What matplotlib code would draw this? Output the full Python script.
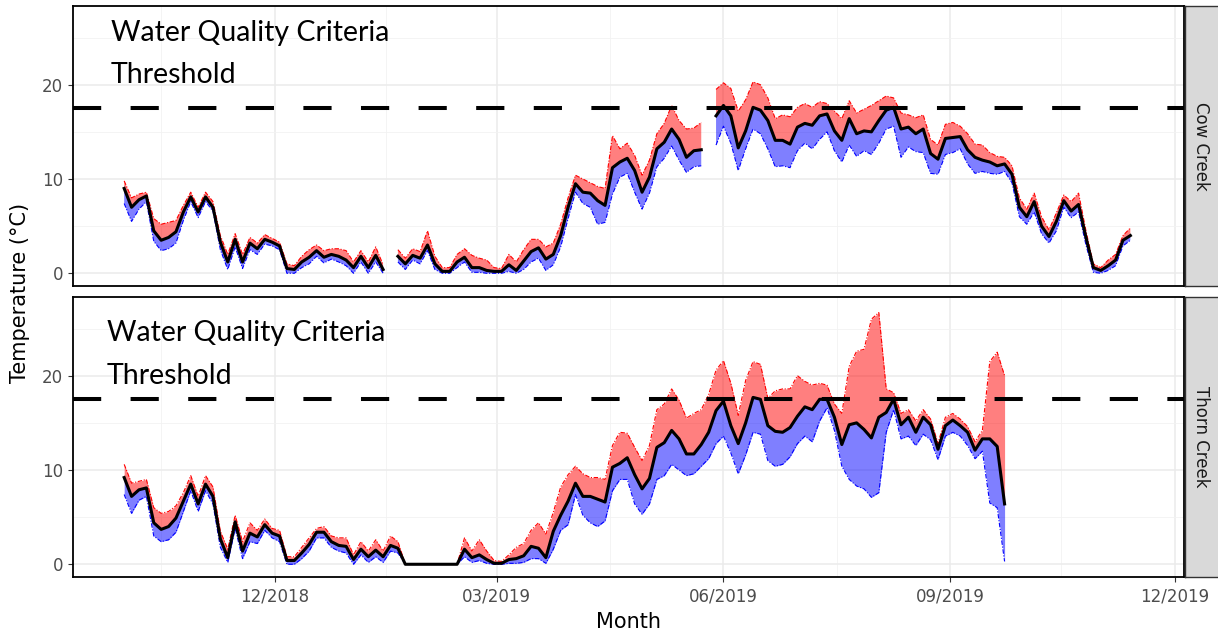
import matplotlib
matplotlib.use("Agg")
import matplotlib.pyplot as plt
import matplotlib.dates as mdates
import numpy as np
import pandas as pd

plt.rcParams["font.family"] = "DejaVu Sans"

nan = np.nan

# ── Daily water temperature, read every 3 days from 2018-10-01 ───────────────
cow_mean = [
    9.0, 7.0, 7.8, 8.2, 4.5, 3.5, 3.8, 4.4, 6.5, 8.1,
    6.5, 8.1, 7.0, 3.3, 1.2, 3.6, 1.2, 3.2, 2.6, 3.6,
    3.3, 2.9, 0.5, 0.4, 1.2, 1.7, 2.4, 1.7, 2.0, 1.8,
    1.4, 0.6, 1.8, 0.6, 1.9, 0.4, nan, 1.8, 1.0, 1.9,
    1.6, 3.0, 1.0, 0.2, 0.2, 1.2, 1.7, 0.6, 0.6, 0.3,
    0.2, 0.2, 0.9, 0.3, 1.3, 2.3, 2.7, 1.5, 2.0, 4.0,
    7.0, 9.5, 8.6, 8.5, 7.7, 7.2, 11.2, 11.8, 12.2, 10.9,
    8.6, 10.2, 13.2, 13.9, 15.3, 14.2, 12.3, 13.0, 13.1, nan,
    16.7, 17.8, 16.7, 13.3, 15.1, 17.6, 17.3, 16.2, 14.1, 14.1,
    13.7, 15.5, 15.9, 15.7, 16.7, 16.9, 15.1, 14.1, 16.4, 14.8,
    15.1, 15.0, 16.2, 17.3, 17.6, 15.3, 15.5, 14.8, 15.3, 12.7,
    12.1, 14.3, 14.4, 14.5, 13.1, 12.3, 12.0, 11.8, 11.4, 11.6,
    10.5, 7.0, 6.0, 7.6, 5.0, 3.9, 5.5, 7.7, 6.6, 7.3,
    3.8, 0.6, 0.3, 0.8, 1.4, 3.5, 4.0,
]
cow_max = [
    9.8, 8.0, 8.4, 8.6, 5.8, 5.2, 5.4, 5.6, 7.2, 8.6,
    7.0, 8.6, 7.6, 4.0, 2.0, 4.2, 2.0, 3.8, 3.2, 4.1,
    3.7, 3.3, 1.0, 0.8, 1.8, 2.5, 3.0, 2.4, 2.6, 2.6,
    2.4, 1.2, 2.4, 1.2, 2.8, 0.9, nan, 2.5, 1.6, 2.6,
    2.3, 4.5, 1.8, 0.6, 0.6, 2.0, 2.6, 1.9, 1.6, 1.4,
    0.6, 0.5, 2.0, 1.2, 2.5, 3.6, 3.6, 2.8, 3.2, 5.2,
    8.0, 10.4, 10.0, 9.6, 9.2, 9.0, 14.6, 13.2, 13.8, 12.5,
    10.4, 12.0, 14.8, 15.9, 17.8, 16.2, 15.3, 15.4, 16.0, nan,
    19.5, 20.2, 19.6, 17.2, 18.4, 20.3, 20.0, 18.6, 16.4, 16.8,
    16.6, 17.6, 18.0, 17.6, 18.2, 18.0, 17.2, 16.4, 18.3, 17.0,
    17.4, 17.8, 18.3, 18.8, 18.6, 17.0, 16.8, 16.5, 16.8, 14.2,
    13.6, 15.8, 16.0, 15.6, 14.8, 13.7, 13.6, 12.8, 12.4, 12.3,
    11.4, 8.0, 6.8, 8.5, 6.0, 4.6, 6.4, 8.3, 7.6, 8.5,
    4.5, 1.0, 0.6, 1.4, 2.0, 4.0, 4.8,
]
cow_min = [
    7.4, 5.5, 6.8, 7.6, 3.4, 2.4, 2.6, 3.2, 5.6, 7.6,
    5.9, 7.6, 6.6, 2.5, 0.4, 2.8, 0.5, 2.5, 2.0, 3.1,
    2.9, 2.5, 0.0, 0.0, 0.6, 1.0, 1.8, 1.1, 1.5, 1.2,
    0.8, 0.0, 1.2, 0.0, 1.2, 0.0, nan, 1.2, 0.4, 1.4,
    1.0, 2.4, 0.4, 0.0, 0.0, 0.6, 1.2, 0.1, 0.1, 0.0,
    0.0, 0.0, 0.2, 0.0, 0.4, 1.2, 1.6, 0.3, 0.9, 2.8,
    5.8, 8.6, 7.4, 7.0, 5.2, 5.4, 8.4, 10.2, 10.6, 8.6,
    6.8, 8.5, 11.3, 12.2, 13.5, 12.0, 10.7, 11.3, 11.4, nan,
    13.6, 15.6, 13.8, 10.9, 13.2, 15.3, 14.8, 13.2, 11.3, 11.4,
    11.2, 13.0, 13.8, 13.2, 14.2, 15.0, 13.0, 11.8, 13.6, 12.4,
    13.0, 12.6, 13.8, 15.3, 15.6, 12.3, 13.4, 12.9, 12.8, 10.6,
    10.5, 12.6, 12.8, 13.2, 11.6, 10.6, 10.8, 10.6, 10.5, 10.8,
    9.6, 6.0, 5.2, 6.5, 4.2, 3.2, 4.5, 7.0, 5.9, 6.5,
    3.0, 0.1, 0.0, 0.3, 0.8, 2.9, 3.5,
]

thorn_mean = [
    9.2, 7.2, 7.9, 8.1, 4.4, 3.7, 4.0, 4.9, 6.7, 8.5,
    6.4, 8.5, 7.2, 2.7, 0.7, 4.5, 1.4, 3.3, 2.9, 4.2,
    3.3, 3.0, 0.4, 0.4, 1.2, 2.1, 3.4, 3.4, 2.4, 2.0,
    1.9, 0.5, 1.6, 0.8, 1.5, 0.8, 2.0, 1.7, 0.0, 0.0,
    0.0, 0.0, 0.0, 0.0, 0.0, 0.0, 1.6, 0.7, 1.0, 0.5,
    0.1, 0.1, 0.5, 0.6, 0.9, 1.9, 1.7, 0.7, 3.5, 5.2,
    6.7, 8.6, 7.2, 7.2, 6.9, 6.6, 10.3, 10.7, 11.3, 9.5,
    8.0, 9.1, 12.4, 12.9, 14.2, 13.3, 11.7, 11.7, 12.7, 14.0,
    16.3, 17.3, 14.7, 12.8, 15.0, 17.7, 17.5, 14.7, 14.1, 14.0,
    14.5, 15.7, 16.7, 16.4, 17.5, 17.5, 15.6, 12.7, 14.8, 15.0,
    14.3, 13.4, 15.6, 16.1, 17.5, 14.8, 15.6, 14.0, 15.6, 14.8,
    12.2, 14.7, 15.3, 14.7, 14.0, 12.1, 13.3, 13.3, 12.5, 6.4,
]
thorn_max = [
    10.6, 8.6, 8.8, 9.0, 6.0, 5.4, 5.6, 6.2, 7.6, 9.4,
    7.2, 9.4, 8.2, 3.5, 1.6, 5.2, 2.4, 4.4, 3.6, 4.8,
    3.8, 3.6, 0.8, 0.8, 1.8, 2.8, 3.8, 4.0, 3.0, 2.8,
    2.8, 1.0, 2.4, 1.4, 2.6, 1.4, 3.0, 2.4, 0.0, 0.0,
    0.0, 0.0, 0.0, 0.0, 0.0, 0.0, 2.8, 1.4, 2.6, 1.4,
    0.4, 0.3, 1.0, 1.8, 2.2, 3.6, 4.4, 3.2, 5.5, 8.2,
    9.5, 10.4, 9.6, 9.2, 9.2, 9.0, 12.6, 14.0, 13.9, 12.4,
    11.0, 12.6, 16.4, 17.0, 18.6, 17.4, 15.5, 16.0, 16.4, 18.0,
    20.6, 21.6, 19.2, 15.8, 19.5, 21.5, 21.2, 17.6, 18.4, 18.6,
    18.6, 20.0, 19.4, 19.0, 19.2, 19.0, 17.0, 16.0, 21.0, 22.6,
    22.8, 26.0, 26.7, 18.6, 18.2, 16.0, 16.4, 15.2, 16.4, 15.4,
    12.8, 15.6, 16.0, 15.4, 14.6, 13.0, 14.2, 21.5, 22.5, 20.0,
]
thorn_min = [
    7.4, 5.4, 6.8, 7.2, 3.0, 2.4, 2.6, 3.4, 5.6, 7.8,
    5.6, 7.8, 6.4, 1.8, 0.2, 3.8, 0.6, 2.4, 2.2, 3.6,
    2.8, 2.4, 0.0, 0.0, 0.6, 1.4, 2.8, 2.8, 1.8, 1.4,
    1.2, 0.0, 1.0, 0.2, 0.8, 0.2, 1.4, 1.2, 0.0, 0.0,
    0.0, 0.0, 0.0, 0.0, 0.0, 0.0, 0.8, 0.2, 0.4, 0.1,
    0.0, 0.0, 0.1, 0.1, 0.2, 0.6, 0.6, 0.1, 1.6, 3.6,
    4.2, 7.4, 5.2, 4.4, 4.0, 4.6, 7.8, 9.0, 9.0, 6.4,
    5.3, 6.4, 9.0, 9.4, 10.6, 10.0, 9.4, 9.6, 10.4, 11.2,
    12.8, 13.6, 11.8, 9.6, 11.6, 14.0, 13.8, 11.0, 10.4, 10.6,
    11.4, 12.8, 13.6, 13.0, 15.2, 16.6, 14.2, 10.4, 9.0, 8.3,
    8.0, 7.1, 7.6, 14.0, 16.4, 13.3, 13.6, 12.6, 13.8, 13.2,
    11.1, 13.6, 14.0, 13.6, 12.6, 11.2, 12.0, 6.5, 6.0, 0.3,
]

threshold = 17.5
sites = ["Cow Creek", "Thorn Creek"]
month_ticks = ["2018-12-01", "2019-03-01", "2019-06-01", "2019-09-01", "2019-12-01"]
minor_ticks = ["2018-10-16", "2019-01-15", "2019-04-16", "2019-07-17", "2019-10-16"]

cow_dates = pd.date_range("2018-10-01", periods=len(cow_mean), freq="3D")
thorn_dates = pd.date_range("2018-10-01", periods=len(thorn_mean), freq="3D")

# ── Figure ────────────────────────────────────────────────────────────────────
W, H = 1218, 638
fig = plt.figure(figsize=(W / 100, H / 100), dpi=100)

def px_axes(x0, y0, x1, y1):
    return fig.add_axes([x0 / W, 1 - y1 / H, (x1 - x0) / W, (y1 - y0) / H])

ax_top = px_axes(73, 6, 1184, 286)
ax_bot = px_axes(73, 297, 1184, 577)
strip_top = px_axes(1185, 6, 1230, 286)
strip_bot = px_axes(1185, 297, 1230, 577)

xlim = (pd.Timestamp("2018-09-10 06:00"), pd.Timestamp("2019-12-04 18:00"))

panels = [
    (ax_top, strip_top, sites[0], cow_dates, cow_mean, cow_max, cow_min),
    (ax_bot, strip_bot, sites[1], thorn_dates, thorn_mean, thorn_max, thorn_min),
]

for ax, strip, name, d, tmean, tmax, tmin in panels:
    tmean = np.array(tmean, dtype=float)
    tmax = np.array(tmax, dtype=float)
    tmin = np.array(tmin, dtype=float)

    ax.fill_between(d, tmean, tmax, color="#FF0000", alpha=0.5, lw=0, zorder=2)
    ax.fill_between(d, tmin, tmean, color="#0000FF", alpha=0.5, lw=0, zorder=2)
    ax.plot(d, tmax, color="#FF0000", lw=0.8, ls=(0, (4, 1.5, 1, 1.5)), zorder=3)
    ax.plot(d, tmin, color="#0000FF", lw=0.8, ls=(0, (4, 1.5, 1, 1.5)), zorder=3)
    ax.plot(d, tmean, color="black", lw=2.2, zorder=4)
    ax.axhline(threshold, color="black", lw=2.9, dashes=(7, 7.3), zorder=5)

    ax.set_xlim(*xlim)
    ax.set_ylim(-1.35, 28.35)
    ax.set_yticks([0, 10, 20])
    ax.set_yticks([5, 15, 25], minor=True)
    ax.set_xticks(pd.to_datetime(month_ticks))
    ax.set_xticks(pd.to_datetime(minor_ticks), minor=True)
    ax.xaxis.set_major_formatter(mdates.DateFormatter("%m/%Y"))
    ax.grid(which="major", color="#EBEBEB", lw=1.1, zorder=0)
    ax.grid(which="minor", color="#F2F2F2", lw=0.6, zorder=0)
    ax.set_axisbelow(True)
    ax.tick_params(axis="y", which="major", labelsize=12, labelcolor="#4D4D4D",
                   color="#333333", length=3.5, width=0.8)
    ax.tick_params(which="minor", length=0)
    ax.tick_params(axis="x", which="major", labelsize=12, labelcolor="#4D4D4D",
                   color="#333333", length=3.5, width=0.8, pad=4)
    for s in ax.spines.values():
        s.set_color("black")
        s.set_linewidth(1.3)

    strip.set_facecolor("#D9D9D9")
    strip.set_xticks([])
    strip.set_yticks([])
    for s in strip.spines.values():
        s.set_color("#333333")
        s.set_linewidth(1.0)
    strip.text(0.36, 0.5, name, rotation=-90, ha="center", va="center",
               fontsize=12, color="#1A1A1A", transform=strip.transAxes)

ax_top.tick_params(axis="x", which="major", length=0, labelbottom=False)

# ── Annotations and labels ────────────────────────────────────────────────────
note = dict(fontsize=20.5, family="Lato", color="black", ha="left", va="center")
fig.text(111 / W, 1 - 33 / H, "Water Quality Criteria", **note)
fig.text(111 / W, 1 - 75 / H, "Threshold", **note)
fig.text(107 / W, 1 - 333 / H, "Water Quality Criteria", **note)
fig.text(107 / W, 1 - 376 / H, "Threshold", **note)

fig.text(628 / W, 1 - 622 / H, "Month", fontsize=15, ha="center", va="center")
fig.text(20 / W, 1 - 293 / H, "Temperature (\u00b0C)", fontsize=15,
         rotation=90, ha="center", va="center")

fig.savefig("out.png", dpi=100)
